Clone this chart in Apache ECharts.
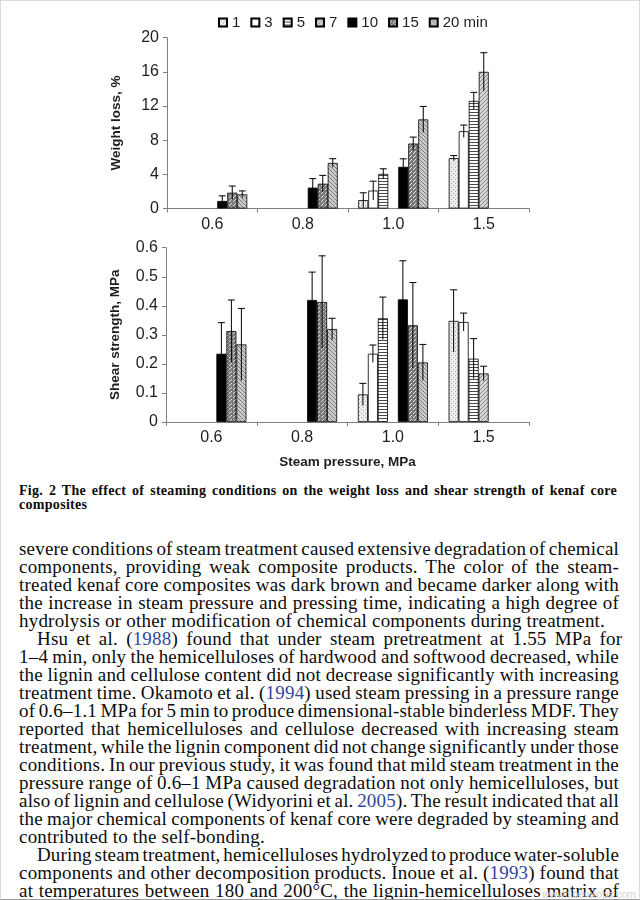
<!DOCTYPE html>
<html><head><meta charset="utf-8">
<script src="https://cdn.jsdelivr.net/npm/echarts@6/dist/echarts.min.js"></script>
<style>
html,body{margin:0;padding:0;background:#fff;}
#page{position:relative;width:640px;height:900px;overflow:hidden;box-sizing:border-box;border:1px solid #dadada;border-bottom-color:#9a9a9a;}
#chart{position:absolute;left:0;top:0;width:640px;height:475px;}
.ln{position:absolute;left:18px;white-space:nowrap;font-family:"Liberation Serif","Times New Roman",serif;color:#0c0c0c;}
.body{font-size:19px;line-height:18px;letter-spacing:0.2px;}
.cap{font-size:14px;font-weight:bold;line-height:14px;letter-spacing:0.3px;}
.yr{color:#34459c;}
.wm{position:absolute;right:3px;font-family:"Liberation Sans",sans-serif;color:#d2d2d2;font-size:10.5px;white-space:nowrap;}
</style></head>
<body><div id="page"><div id="chart"></div><div id="txt"></div>
<div class="wm" style="top:887px;">www.fibercrops.com</div>
</div>
<script>
// ---- data ----
const categories = ['0.6', '0.8', '1.0', '1.5'];
const seriesNames = ['1', '3', '5', '7', '10', '15', '20 min'];
// Weight loss (%)
const wl1  = [null, null, 0.98, 5.9];
const wl3  = [null, null, 2.1, 9.05];
const wl5  = [null, null, 4.05, 12.6];
const wl7  = [null, null, null, 16.0];
const wl10 = [0.88, 2.44, 4.88, null];
const wl15 = [1.85, 2.9, 7.6, null];
const wl20 = [1.66, 5.33, 10.43, null];
const wlErr1  = [null, null, 0.86, 0.3];
const wlErr3  = [null, null, 1.1, 0.72];
const wlErr5  = [null, null, 0.6, 1.0];
const wlErr7  = [null, null, null, 2.24];
const wlErr10 = [0.6, 1.06, 0.94, null];
const wlErr15 = [0.78, 0.98, 0.76, null];
const wlErr20 = [0.4, 0.5, 1.52, null];
// Shear strength (MPa)
const ss1  = [null, null, 0.095, 0.348];
const ss3  = [null, null, 0.235, 0.344];
const ss5  = [null, null, 0.357, 0.218];
const ss7  = [null, null, null, 0.167];
const ss10 = [0.235, 0.42, 0.422, null];
const ss15 = [0.313, 0.413, 0.333, null];
const ss20 = [0.267, 0.32, 0.205, null];
const ssErr1  = [null, null, 0.038, 0.107];
const ssErr3  = [null, null, 0.03, 0.031];
const ssErr5  = [null, null, 0.073, 0.069];
const ssErr7  = [null, null, null, 0.025];
const ssErr10 = [0.107, 0.096, 0.133, null];
const ssErr15 = [0.107, 0.159, 0.147, null];
const ssErr20 = [0.124, 0.037, 0.062, null];
const wlTicks = { min: 0, max: 20, interval: 4 };
const ssTicks = { min: 0, max: 0.6, interval: 0.1 };

const wlVals = [wl1, wl3, wl5, wl7, wl10, wl15, wl20];
const wlErrs = [wlErr1, wlErr3, wlErr5, wlErr7, wlErr10, wlErr15, wlErr20];
const ssVals = [ss1, ss3, ss5, ss7, ss10, ss15, ss20];
const ssErrs = [ssErr1, ssErr3, ssErr5, ssErr7, ssErr10, ssErr15, ssErr20];

// ---- patterns ----
function pat(w, h, bg, fg, pts) {
  const c = document.createElement('canvas'); c.width = w; c.height = h;
  const g = c.getContext('2d'); g.fillStyle = bg; g.fillRect(0, 0, w, h);
  g.fillStyle = fg; pts.forEach(p => g.fillRect(p[0], p[1], p[2] || 1, p[3] || 1));
  return { image: c, repeat: 'repeat' };
}
const patterns = [
  pat(4, 4, '#ededed', '#a8a8a8', [[0,0],[2,2]]),
  '#ffffff',
  pat(4, 3, '#ffffff', '#4a4a4a', [[0,0,4,1]]),
  pat(4, 4, '#d6d6d6', '#8a8a8a', [[0,3],[1,2],[2,1],[3,0]]),
  '#000000',
  pat(4, 4, '#7a7a7a', '#e0e0e0', [[0,0],[2,2],[1,3,1,1]]),
  pat(4, 4, '#cbcbcb', '#7c7c7c', [[0,0],[1,1],[2,2],[3,3]])
];

const BAR_W = 10;
const FONT = '"Liberation Sans", Arial, sans-serif';
const series = [];
[[wlVals, 0], [ssVals, 1]].forEach(([vals, g]) => {
  vals.forEach((arr, i) => {
    series.push({
      type: 'bar', name: seriesNames[i], xAxisIndex: g, yAxisIndex: g,
      data: arr, barWidth: BAR_W, barGap: '0%',
      itemStyle: { color: patterns[i], borderColor: '#000', borderWidth: 0.8 },
      emphasis: { disabled: true }, z: 2
    });
  });
});
function errData(vals, errs) {
  const d = [];
  vals.forEach((arr, s) => arr.forEach((v, c) => { if (v != null) d.push([c, s, v, errs[s][c]]); }));
  return d;
}
function renderErr(params, api) {
  const c = api.value(0), s = api.value(1), v = api.value(2), e = api.value(3);
  const x = api.coord([c, v])[0] + (s - 3) * BAR_W;
  const top = api.coord([c, v + e])[1];
  const bot = api.coord([c, Math.max(0, v - e)])[1];
  const st = { stroke: '#000', lineWidth: 1 };
  return { type: 'group', children: [
    { type: 'line', shape: { x1: x, y1: bot, x2: x, y2: top }, style: st },
    { type: 'line', shape: { x1: x - 3.5, y1: top, x2: x + 3.5, y2: top }, style: st }
  ]};
}
[[wlVals, wlErrs, 0], [ssVals, ssErrs, 1]].forEach(([v, e, g]) => {
  series.push({ type: 'custom', name: 'err' + g, xAxisIndex: g, yAxisIndex: g,
    data: errData(v, e), encode: { x: 0, y: 2 }, renderItem: renderErr, z: 5, silent: true });
});

const axisLineGrey = { lineStyle: { color: '#808080', width: 1 } };
function xAx(g, withName) {
  const a = {
    type: 'category', gridIndex: g, data: categories, boundaryGap: true,
    axisLine: axisLineGrey, axisTick: { show: true, length: 4, lineStyle: { color: '#808080' } },
    axisLabel: { fontSize: 16, color: '#1e1e1e', fontFamily: FONT, margin: 8 },
    splitLine: { show: false }
  };
  if (withName) {
    a.name = 'Steam pressure, MPa'; a.nameLocation = 'middle'; a.nameGap = 33;
    a.nameTextStyle = { fontSize: 13.5, fontWeight: 'bold', color: '#1e1e1e', fontFamily: FONT };
  }
  return a;
}
function yAx(g, t, name, fmt) {
  return {
    type: 'value', gridIndex: g, min: t.min, max: t.max, interval: t.interval,
    axisLine: Object.assign({ show: true }, axisLineGrey),
    axisTick: { show: true, length: 4, lineStyle: { color: '#808080' } },
    splitLine: { show: false },
    axisLabel: { fontSize: 16, color: '#1e1e1e', fontFamily: FONT, margin: 8, formatter: fmt },
    name: name, nameLocation: 'middle', nameGap: 44, nameRotate: 90,
    nameTextStyle: { fontSize: 13.5, fontWeight: 'bold', color: '#1e1e1e', fontFamily: FONT }
  };
}

const chart = echarts.init(document.getElementById('chart'), null, { renderer: 'canvas' });
chart.setOption({
  animation: false,
  backgroundColor: '#fff',
  legend: {
    data: seriesNames, left: 212, top: 9, itemWidth: 8, itemHeight: 8, itemGap: 10,
    icon: 'rect', selectedMode: false,
    textStyle: { fontSize: 15, color: '#1e1e1e', fontFamily: FONT }
  },
  grid: [
    { left: 166, top: 36.7, width: 362, height: 170.8, containLabel: false },
    { left: 165, top: 246.7, width: 363, height: 174.3, containLabel: false }
  ],
  xAxis: [xAx(0, false), xAx(1, true)],
  yAxis: [
    yAx(0, wlTicks, 'Weight loss, %', v => String(v)),
    yAx(1, ssTicks, 'Shear strength, MPa', v => v === 0 ? '0' : v.toFixed(1))
  ],
  series: series
});

// ---- text ----
const capLines = [
  ['Fig. 2  The effect of steaming conditions on the weight loss and shear strength of kenaf core', true],
  ['composites', false]
];
const bodyLines = [
  ['severe conditions of steam treatment caused extensive degradation of chemical', 0, true],
  ['components, providing weak composite products. The color of the steam-', 0, true],
  ['treated kenaf core composites was dark brown and became darker along with', 0, true],
  ['the increase in steam pressure and pressing time, indicating a high degree of', 0, true],
  ['hydrolysis or other modification of chemical components during treatment.', 0, false],
  ['Hsu et al. (<span class="yr">1988</span>) found that under steam pretreatment at 1.55\u00a0MPa for', 18, true],
  ['1\u20134 min, only the hemicelluloses of hardwood and softwood decreased, while', 0, true],
  ['the lignin and cellulose content did not decrease significantly with increasing', 0, true],
  ['treatment time. Okamoto et al. (<span class="yr">1994</span>) used steam pressing in a pressure range', 0, true],
  ['of 0.6\u20131.1 MPa for 5 min to produce dimensional-stable binderless MDF. They', 0, true],
  ['reported that hemicelluloses and cellulose decreased with increasing steam', 0, true],
  ['treatment, while the lignin component did not change significantly under those', 0, true],
  ['conditions. In our previous study, it was found that mild steam treatment in the', 0, true],
  ['pressure range of 0.6\u20131 MPa caused degradation not only hemicelluloses, but', 0, true],
  ['also of lignin and cellulose (Widyorini et al. <span class="yr">2005</span>). The result indicated that all', 0, true],
  ['the major chemical components of kenaf core were degraded by steaming and', 0, true],
  ['contributed to the self-bonding.', 0, false],
  ['During steam treatment, hemicelluloses hydrolyzed to produce water-soluble', 18, true],
  ['components and other decomposition products. Inoue et al. (<span class="yr">1993</span>) found that', 0, true],
  ['at temperatures between 180 and 200\u00b0C, the lignin-hemicelluloses matrix of', 0, true]
];
const txt = document.getElementById('txt');
const RIGHT = 618;
function addLine(html, cls, left, top, justify) {
  const d = document.createElement('div');
  d.className = 'ln ' + cls; d.innerHTML = html;
  d.style.left = left + 'px'; d.style.top = top + 'px';
  txt.appendChild(d);
  if (justify) {
    const W = RIGHT - left;
    const w = d.getBoundingClientRect().width;
    const n = (d.textContent.match(/ /g) || []).length;
    let ws = n ? (W - w) / n : 0;
    if (ws < -2) {
      const chars = d.textContent.length;
      const ls = parseFloat(getComputedStyle(d).letterSpacing) || 0;
      d.style.letterSpacing = (ls + (W - w + 2 * n) / chars) + 'px';
      ws = -2;
    }
    d.style.wordSpacing = ws + 'px';
  }
}
capLines.forEach((l, i) => addLine(l[0], 'cap', 18, 483 + i * 14, l[1]));
bodyLines.forEach((l, i) => addLine(l[0], 'body', 18 + l[1], 539 + i * 18, l[2]));
</script></body></html>
